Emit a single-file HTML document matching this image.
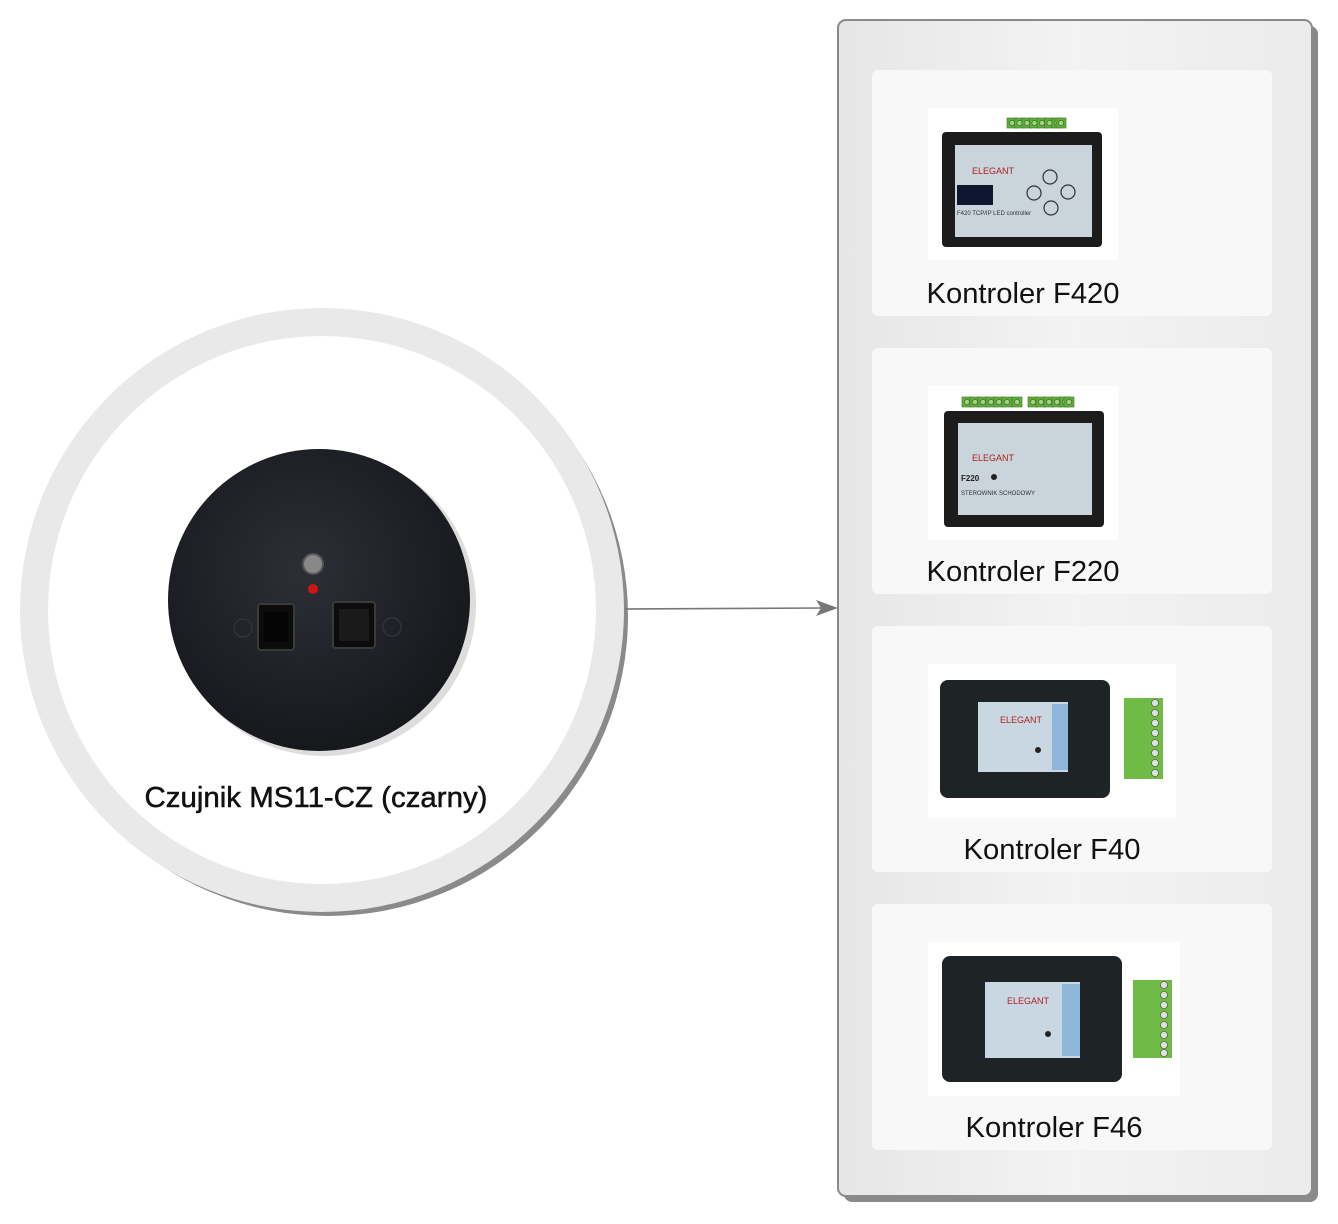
<!DOCTYPE html>
<html><head><meta charset="utf-8"><style>
html,body{margin:0;padding:0;background:#fff}
svg{display:block}
text{font-family:"Liberation Sans",sans-serif}
</style></head><body>
<svg width="1338" height="1224" viewBox="0 0 1338 1224" xmlns="http://www.w3.org/2000/svg">
<defs>
<linearGradient id="pg" x1="0" x2="1" y1="0" y2="0">
<stop offset="0" stop-color="#e6e6e6"/><stop offset="0.5" stop-color="#f3f3f3"/><stop offset="1" stop-color="#ebebeb"/>
</linearGradient>
<radialGradient id="disc" cx="0.45" cy="0.4" r="0.6">
<stop offset="0" stop-color="#2c2f36"/><stop offset="1" stop-color="#16181c"/>
</radialGradient>
<g id="term">
<rect x="0" y="0" width="10" height="10" fill="#5fae3c" stroke="#3d7a25" stroke-width="0.6"/>
<circle cx="5" cy="5" r="2.6" fill="#a7cf8a" stroke="#2f5f1c" stroke-width="0.6"/>
</g>
</defs>

<circle cx="328" cy="616" r="300" fill="#8a8a8a"/>
<circle cx="322" cy="610" r="302" fill="#e9e9e9"/>
<circle cx="322" cy="610" r="274" fill="#ffffff"/>
<circle cx="324" cy="604" r="152" fill="#bbb" opacity="0.5"/>
<circle cx="319" cy="600" r="151" fill="url(#disc)"/>
<circle cx="313" cy="564" r="10" fill="#888" stroke="#555" stroke-width="2"/>
<circle cx="313" cy="589" r="5" fill="#d11515"/>
<circle cx="243" cy="628" r="9" fill="none" stroke="#333" stroke-width="1.5"/>
<circle cx="392" cy="627" r="9" fill="none" stroke="#333" stroke-width="1.5"/>
<rect x="258" y="604" width="36" height="46" rx="3" fill="#0c0c0c" stroke="#3a3a3a" stroke-width="2"/>
<rect x="264" y="612" width="24" height="30" fill="#050505"/>
<rect x="333" y="602" width="42" height="46" rx="3" fill="#0c0c0c" stroke="#3a3a3a" stroke-width="2"/>
<rect x="339" y="609" width="30" height="32" fill="#1a1a1a"/>
<text x="316" y="807" font-size="29" text-anchor="middle" fill="#111" stroke="#111" stroke-width="0.5" textLength="343" lengthAdjust="spacingAndGlyphs">Czujnik MS11-CZ (czarny)</text>

<line x1="625" y1="609" x2="822" y2="608" stroke="#777" stroke-width="1.6"/>
<polygon points="838,608 816,600 821,608 816,616" fill="#777"/>

<rect x="844" y="26" width="474" height="1176" rx="8" fill="#8a8a8a"/>
<rect x="838" y="20" width="474" height="1176" rx="8" fill="url(#pg)" stroke="#8a8a8a" stroke-width="2"/>

<rect x="872" y="70" width="400" height="246" rx="6" fill="#f8f8f8"/>
<rect x="872" y="348" width="400" height="246" rx="6" fill="#f8f8f8"/>
<rect x="872" y="626" width="400" height="246" rx="6" fill="#f8f8f8"/>
<rect x="872" y="904" width="400" height="246" rx="6" fill="#f8f8f8"/>

<rect x="928" y="108" width="190" height="152" fill="#fff"/>
<g transform="translate(1007,118)"><use href="#term" x="0"/><use href="#term" x="7.5"/><use href="#term" x="15"/><use href="#term" x="22.5"/><use href="#term" x="30"/><use href="#term" x="37.5"/><use href="#term" x="45"/><use href="#term" x="49"/></g>
<rect x="942" y="132" width="160" height="115" rx="4" fill="#1c1c1c"/>
<rect x="955" y="145" width="137" height="92" fill="#c9d4db"/>
<text x="972" y="174" font-size="9" fill="#b02020" font-family="Liberation Serif,serif">ELEGANT</text>
<rect x="957" y="185" width="36" height="20" fill="#0d1830"/>
<circle cx="1050" cy="177" r="7" fill="none" stroke="#333" stroke-width="1.2"/>
<circle cx="1034" cy="193" r="7" fill="none" stroke="#333" stroke-width="1.2"/>
<circle cx="1068" cy="192" r="7" fill="none" stroke="#333" stroke-width="1.2"/>
<circle cx="1051" cy="208" r="7" fill="none" stroke="#333" stroke-width="1.2"/>
<text x="957" y="215" font-size="6" fill="#333">F420 TCP/IP LED controller</text>
<text x="1023" y="303" font-size="29" text-anchor="middle" fill="#111" textLength="193" lengthAdjust="spacingAndGlyphs">Kontroler F420</text>

<rect x="928" y="386" width="190" height="154" fill="#fff"/>
<g transform="translate(962,397)"><use href="#term" x="0"/><use href="#term" x="8"/><use href="#term" x="16"/><use href="#term" x="24"/><use href="#term" x="32"/><use href="#term" x="40"/><use href="#term" x="50"/></g>
<g transform="translate(1028,397)"><use href="#term" x="0"/><use href="#term" x="8"/><use href="#term" x="16"/><use href="#term" x="24"/><use href="#term" x="32"/><use href="#term" x="36"/></g>
<rect x="944" y="411" width="160" height="116" rx="4" fill="#1c1c1c"/>
<rect x="958" y="423" width="134" height="92" fill="#c9d4db"/>
<text x="972" y="461" font-size="9" fill="#b02020" font-family="Liberation Serif,serif">ELEGANT</text>
<text x="961" y="481" font-size="8" font-weight="bold" fill="#222">F220</text>
<circle cx="994" cy="477" r="3" fill="#222"/>
<text x="961" y="495" font-size="6" fill="#333">STEROWNIK SCHODOWY</text>
<text x="1023" y="581" font-size="29" text-anchor="middle" fill="#111" textLength="193" lengthAdjust="spacingAndGlyphs">Kontroler F220</text>

<rect x="928" y="664" width="248" height="154" fill="#fff"/>
<rect x="940" y="680" width="170" height="118" rx="8" fill="#1e2326"/>
<rect x="978" y="702" width="90" height="70" fill="#c9d7e3"/>
<rect x="1052" y="704" width="16" height="66" fill="#8eb6da"/>
<text x="1000" y="723" font-size="9" fill="#b02020" font-family="Liberation Serif,serif">ELEGANT</text>
<circle cx="1038" cy="750" r="3" fill="#222"/>
<rect x="1124" y="698" width="39" height="81" fill="#6fbb45"/>
<g fill="#e0e0e0" stroke="#444" stroke-width="0.6"><circle cx="1155" cy="703" r="3.5"/><circle cx="1155" cy="713" r="3.5"/><circle cx="1155" cy="723" r="3.5"/><circle cx="1155" cy="733" r="3.5"/><circle cx="1155" cy="743" r="3.5"/><circle cx="1155" cy="753" r="3.5"/><circle cx="1155" cy="763" r="3.5"/><circle cx="1155" cy="773" r="3.5"/></g>
<text x="1052" y="859" font-size="29" text-anchor="middle" fill="#111" textLength="177" lengthAdjust="spacingAndGlyphs">Kontroler F40</text>

<rect x="928" y="942" width="252" height="154" fill="#fff"/>
<rect x="942" y="956" width="180" height="126" rx="8" fill="#1e2326"/>
<rect x="985" y="982" width="95" height="76" fill="#c9d7e3"/>
<rect x="1062" y="984" width="18" height="72" fill="#8eb6da"/>
<text x="1007" y="1004" font-size="9" fill="#b02020" font-family="Liberation Serif,serif">ELEGANT</text>
<circle cx="1048" cy="1034" r="3" fill="#222"/>
<rect x="1133" y="980" width="39" height="78" fill="#6fbb45"/>
<g fill="#e0e0e0" stroke="#444" stroke-width="0.6"><circle cx="1164" cy="985" r="3.5"/><circle cx="1164" cy="995" r="3.5"/><circle cx="1164" cy="1005" r="3.5"/><circle cx="1164" cy="1015" r="3.5"/><circle cx="1164" cy="1025" r="3.5"/><circle cx="1164" cy="1035" r="3.5"/><circle cx="1164" cy="1045" r="3.5"/><circle cx="1164" cy="1053" r="3.5"/></g>
<text x="1054" y="1137" font-size="29" text-anchor="middle" fill="#111" textLength="177" lengthAdjust="spacingAndGlyphs">Kontroler F46</text>
</svg>
</body></html>
